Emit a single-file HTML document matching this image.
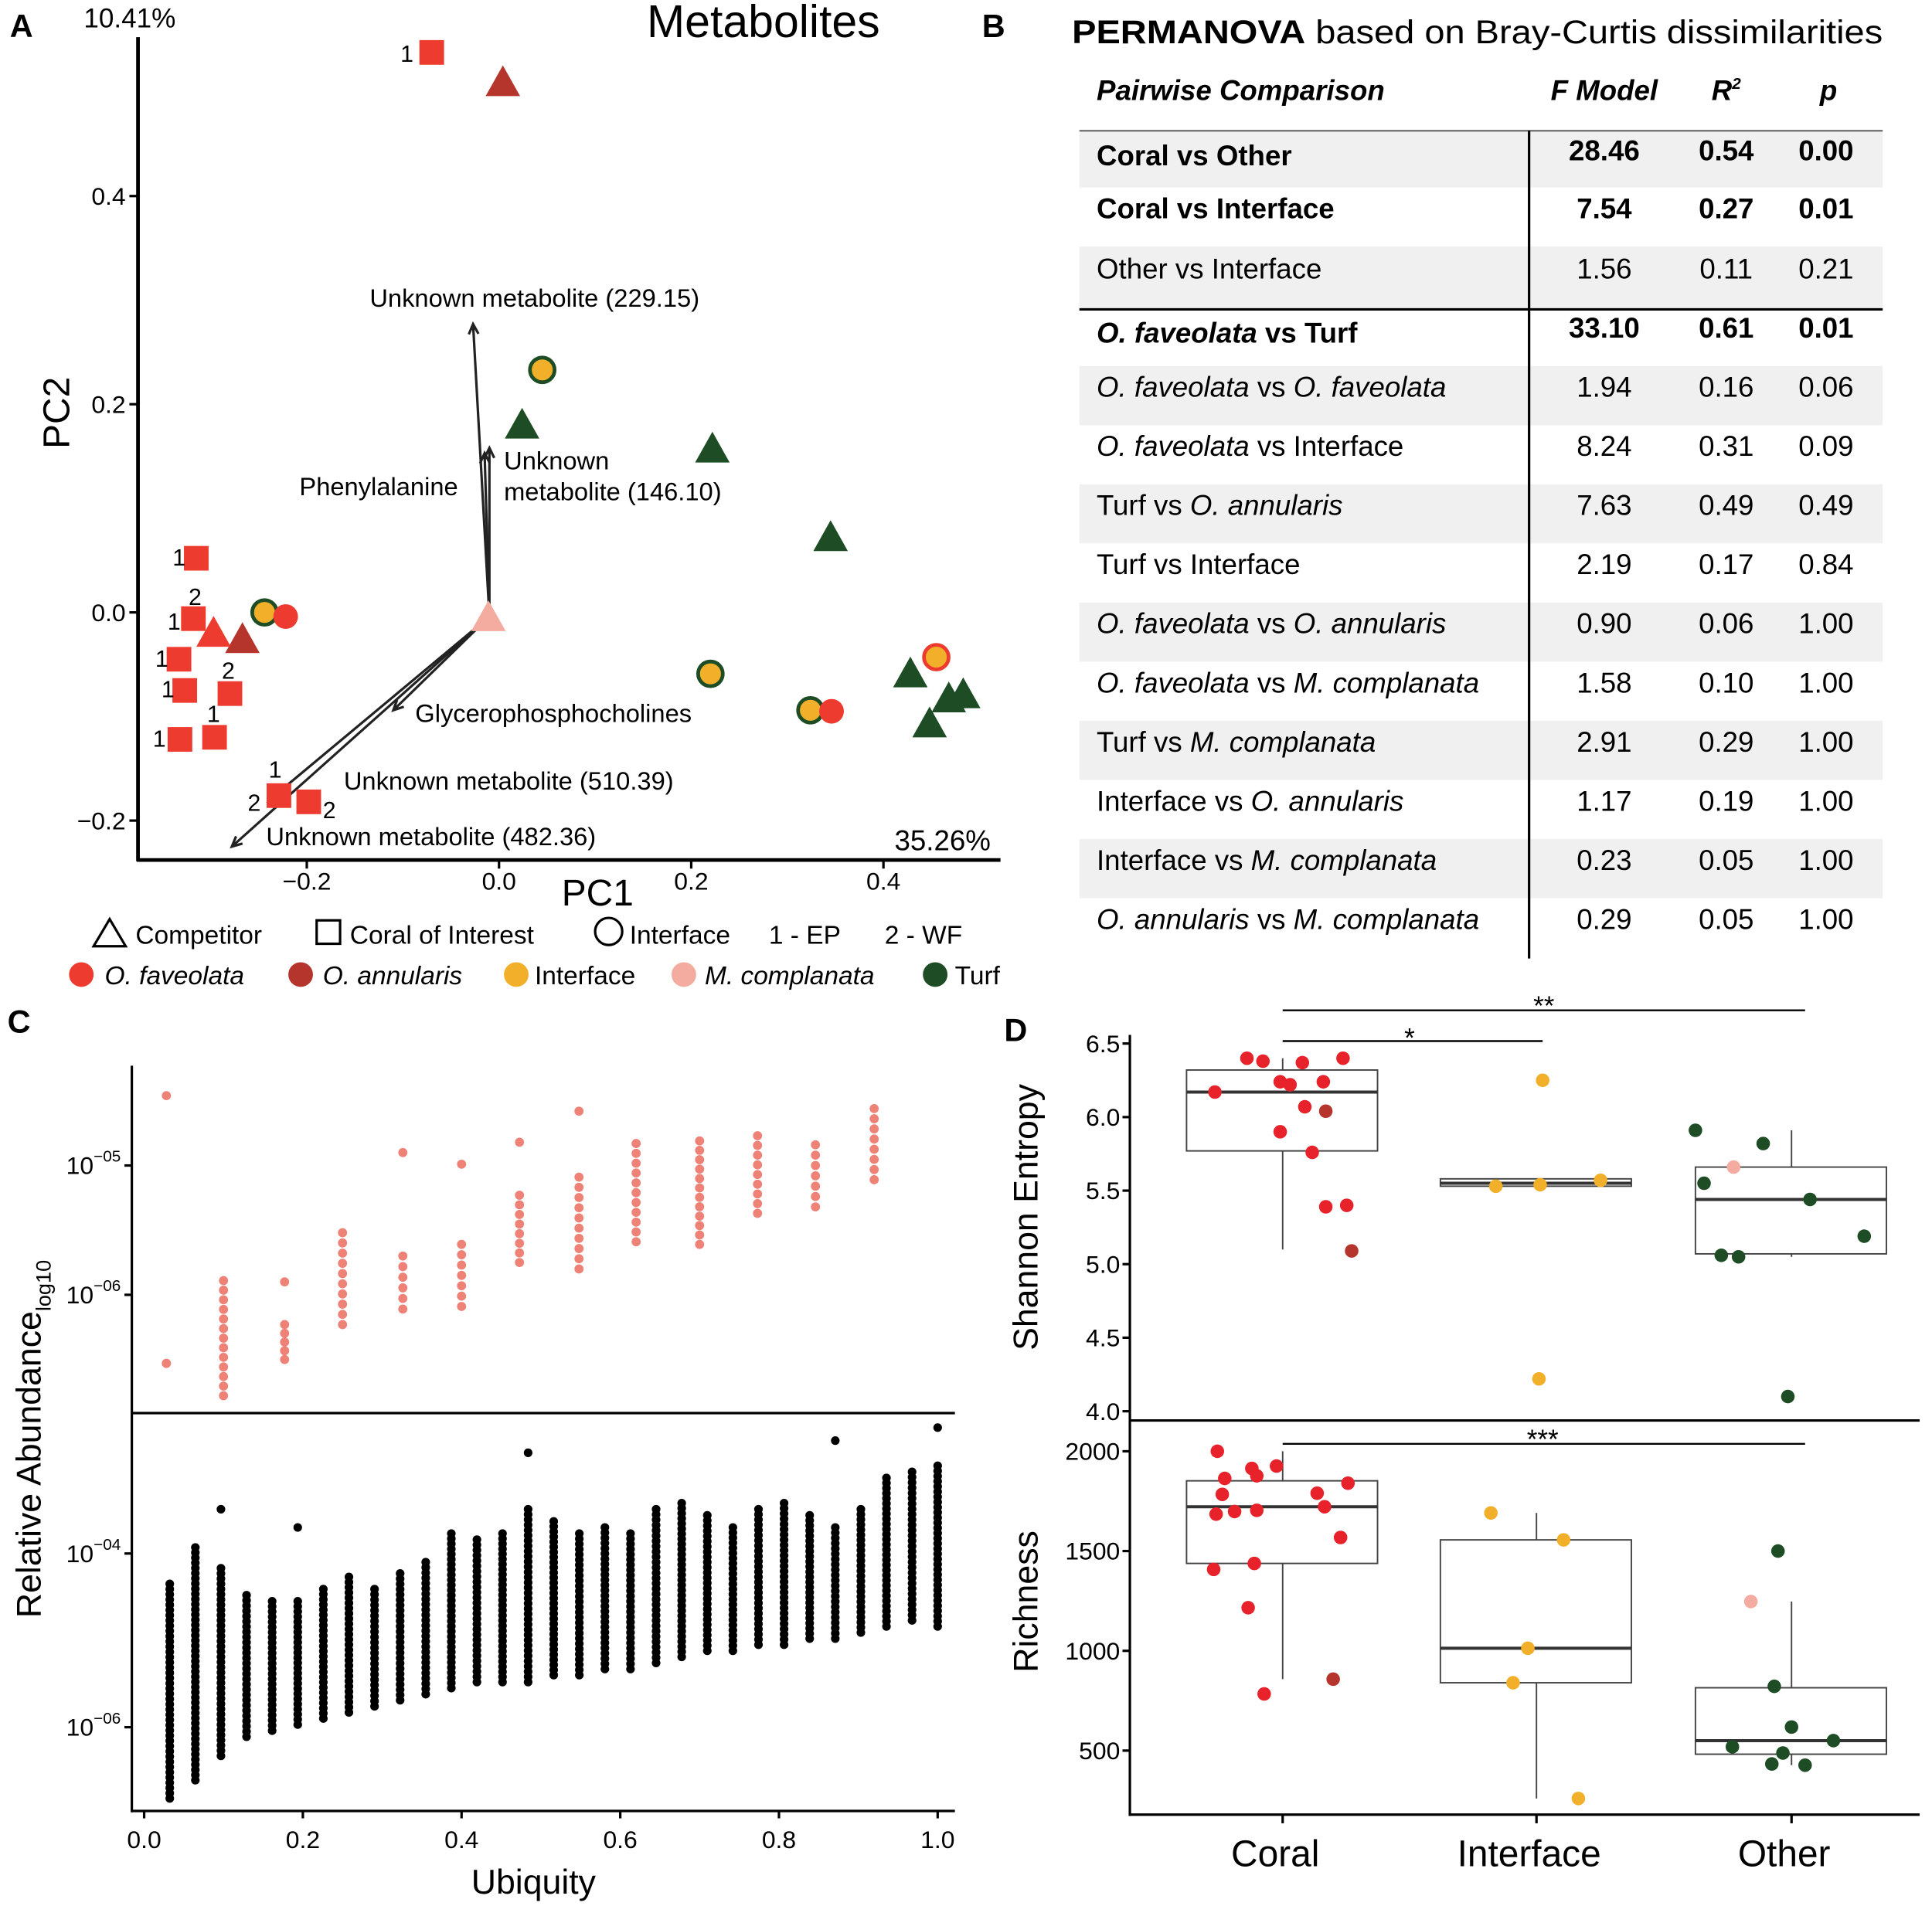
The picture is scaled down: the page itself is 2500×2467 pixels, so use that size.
<!DOCTYPE html>
<html><head><meta charset="utf-8">
<style>
html,body{margin:0;padding:0;background:#fff;}
svg{display:block;font-family:"Liberation Sans",Arial,sans-serif;}
</style></head>
<body>
<svg id="fig" width="2500" height="2467" viewBox="0 0 1568 1547" xmlns="http://www.w3.org/2000/svg">
<text x="8" y="30" font-size="26" font-weight="bold">A</text>
<text x="797" y="30" font-size="26" font-weight="bold">B</text>
<text x="6" y="838" font-size="26" font-weight="bold">C</text>
<text x="815" y="845" font-size="26" font-weight="bold">D</text>

<g id="panelA">
<line x1="112" y1="30" x2="112" y2="699" stroke="#000" stroke-width="3"/>
<line x1="111" y1="698" x2="812" y2="698" stroke="#000" stroke-width="3"/>
<text x="68" y="22" font-size="22">10.41%</text>
<text x="525" y="30" font-size="37">Metabolites</text>
<text x="726" y="690" font-size="23">35.26%</text>
<text transform="translate(56,335) rotate(-90)" text-anchor="middle" font-size="30">PC2</text>
<text x="485" y="735" text-anchor="middle" font-size="30">PC1</text>
<g id="aTicks"></g>
<g id="aArrows" stroke="#222" stroke-width="2" fill="none"></g>
<g id="aPts"></g>
<g font-size="20.5">
<text x="300" y="249">Unknown metabolite (229.15)</text>
<text x="409" y="381">Unknown</text>
<text x="409" y="406">metabolite (146.10)</text>
<text x="243" y="402">Phenylalanine</text>
<text x="337" y="586">Glycerophosphocholines</text>
<text x="279" y="641">Unknown metabolite (510.39)</text>
<text x="216" y="686">Unknown metabolite (482.36)</text>
</g>
<g font-size="19">
<text x="325" y="50">1</text><text x="140" y="459">1</text><text x="153" y="491">2</text>
<text x="136" y="511">1</text><text x="126" y="541">1</text><text x="131" y="566">1</text>
<text x="168" y="586">1</text><text x="180" y="551">2</text><text x="124" y="606">1</text>
<text x="218" y="631">1</text><text x="201" y="658">2</text><text x="262" y="664">2</text>
</g>
<g font-size="21">
<polygon points="76,768 89,746 102,768" fill="none" stroke="#000" stroke-width="2"/>
<text x="110" y="766">Competitor</text>
<rect x="257" y="747" width="19" height="19" fill="none" stroke="#000" stroke-width="2"/>
<text x="284" y="766">Coral of Interest</text>
<circle cx="494" cy="756" r="11" fill="none" stroke="#000" stroke-width="2"/>
<text x="511" y="766">Interface</text>
<text x="624" y="766">1 - EP</text>
<text x="718" y="766">2 - WF</text>
<circle cx="66" cy="791" r="10" fill="#ee3b2f"/>
<text x="85" y="799" font-style="italic">O. faveolata</text>
<circle cx="244" cy="791" r="10" fill="#b5342b"/>
<text x="262" y="799" font-style="italic">O. annularis</text>
<circle cx="419" cy="791" r="10" fill="#f2b02a"/>
<text x="434" y="799">Interface</text>
<circle cx="555" cy="791" r="10" fill="#f4aba0"/>
<text x="572" y="799" font-style="italic">M. complanata</text>
<circle cx="759" cy="791" r="10" fill="#1e4d25"/>
<text x="775" y="799">Turf</text>
</g>
</g>

<g id="panelB">
<text x="870" y="35" font-size="27" textLength="658" lengthAdjust="spacingAndGlyphs"><tspan font-weight="bold">PERMANOVA</tspan> based on Bray-Curtis dissimilarities</text>
<g fill="#f0f0f0">
<rect x="876" y="107" width="652" height="45"/><rect x="876" y="200" width="652" height="50"/>
<rect x="876" y="297" width="652" height="48"/><rect x="876" y="393" width="652" height="48"/>
<rect x="876" y="489" width="652" height="48"/><rect x="876" y="585" width="652" height="48"/>
<rect x="876" y="681" width="652" height="48"/>
</g>
<line x1="876" y1="106" x2="1528" y2="106" stroke="#777" stroke-width="1.5"/>
<line x1="876" y1="251" x2="1528" y2="251" stroke="#000" stroke-width="2"/>
<line x1="1241" y1="106" x2="1241" y2="778" stroke="#000" stroke-width="2"/>
<g font-size="23" font-weight="bold" font-style="italic">
<text x="890" y="81">Pairwise Comparison</text>
<text x="1302" y="81" text-anchor="middle">F Model</text>
<text x="1401" y="81" text-anchor="middle">R<tspan font-size="13" dy="-9">2</tspan></text>
<text x="1484" y="81" text-anchor="middle">p</text>
</g>
<g font-size="23">
<g font-weight="bold"><text x="890" y="134">Coral vs Other</text><text x="1302" y="130" text-anchor="middle">28.46</text><text x="1401" y="130" text-anchor="middle">0.54</text><text x="1482" y="130" text-anchor="middle">0.00</text></g>
<g font-weight="bold"><text x="890" y="177">Coral vs Interface</text><text x="1302" y="177" text-anchor="middle">7.54</text><text x="1401" y="177" text-anchor="middle">0.27</text><text x="1482" y="177" text-anchor="middle">0.01</text></g>
<g><text x="890" y="226">Other vs Interface</text><text x="1302" y="226" text-anchor="middle">1.56</text><text x="1401" y="226" text-anchor="middle">0.11</text><text x="1482" y="226" text-anchor="middle">0.21</text></g>
<g font-weight="bold"><text x="890" y="278"><tspan font-style="italic">O. faveolata</tspan> vs Turf</text><text x="1302" y="274" text-anchor="middle">33.10</text><text x="1401" y="274" text-anchor="middle">0.61</text><text x="1482" y="274" text-anchor="middle">0.01</text></g>
<g><text x="890" y="322"><tspan font-style="italic">O. faveolata</tspan> vs <tspan font-style="italic">O. faveolata</tspan></text><text x="1302" y="322" text-anchor="middle">1.94</text><text x="1401" y="322" text-anchor="middle">0.16</text><text x="1482" y="322" text-anchor="middle">0.06</text></g>
<g><text x="890" y="370"><tspan font-style="italic">O. faveolata</tspan> vs Interface</text><text x="1302" y="370" text-anchor="middle">8.24</text><text x="1401" y="370" text-anchor="middle">0.31</text><text x="1482" y="370" text-anchor="middle">0.09</text></g>
<g><text x="890" y="418">Turf vs <tspan font-style="italic">O. annularis</tspan></text><text x="1302" y="418" text-anchor="middle">7.63</text><text x="1401" y="418" text-anchor="middle">0.49</text><text x="1482" y="418" text-anchor="middle">0.49</text></g>
<g><text x="890" y="466">Turf vs Interface</text><text x="1302" y="466" text-anchor="middle">2.19</text><text x="1401" y="466" text-anchor="middle">0.17</text><text x="1482" y="466" text-anchor="middle">0.84</text></g>
<g><text x="890" y="514"><tspan font-style="italic">O. faveolata</tspan> vs <tspan font-style="italic">O. annularis</tspan></text><text x="1302" y="514" text-anchor="middle">0.90</text><text x="1401" y="514" text-anchor="middle">0.06</text><text x="1482" y="514" text-anchor="middle">1.00</text></g>
<g><text x="890" y="562"><tspan font-style="italic">O. faveolata</tspan> vs <tspan font-style="italic">M. complanata</tspan></text><text x="1302" y="562" text-anchor="middle">1.58</text><text x="1401" y="562" text-anchor="middle">0.10</text><text x="1482" y="562" text-anchor="middle">1.00</text></g>
<g><text x="890" y="610">Turf vs <tspan font-style="italic">M. complanata</tspan></text><text x="1302" y="610" text-anchor="middle">2.91</text><text x="1401" y="610" text-anchor="middle">0.29</text><text x="1482" y="610" text-anchor="middle">1.00</text></g>
<g><text x="890" y="658">Interface vs <tspan font-style="italic">O. annularis</tspan></text><text x="1302" y="658" text-anchor="middle">1.17</text><text x="1401" y="658" text-anchor="middle">0.19</text><text x="1482" y="658" text-anchor="middle">1.00</text></g>
<g><text x="890" y="706">Interface vs <tspan font-style="italic">M. complanata</tspan></text><text x="1302" y="706" text-anchor="middle">0.23</text><text x="1401" y="706" text-anchor="middle">0.05</text><text x="1482" y="706" text-anchor="middle">1.00</text></g>
<g><text x="890" y="754"><tspan font-style="italic">O. annularis</tspan> vs <tspan font-style="italic">M. complanata</tspan></text><text x="1302" y="754" text-anchor="middle">0.29</text><text x="1401" y="754" text-anchor="middle">0.05</text><text x="1482" y="754" text-anchor="middle">1.00</text></g>
</g>
</g>

<g id="panelC">
<line x1="107" y1="865" x2="107" y2="1471" stroke="#000" stroke-width="2"/>
<line x1="106" y1="1470" x2="775" y2="1470" stroke="#000" stroke-width="2"/>
<line x1="107" y1="1147" x2="775" y2="1147" stroke="#000" stroke-width="2"/>
<text x="433" y="1537" text-anchor="middle" font-size="28">Ubiquity</text>
<text transform="translate(33,1168) rotate(-90)" text-anchor="middle" font-size="28">Relative Abundance<tspan font-size="17" dy="8">log10</tspan></text>
<g id="cTicks"></g>
<g id="cPts"></g>
</g>

<g id="panelD">
<line x1="917" y1="840" x2="917" y2="1474" stroke="#000" stroke-width="2"/>
<line x1="916" y1="1473" x2="1558" y2="1473" stroke="#000" stroke-width="2"/>
<line x1="917" y1="1153" x2="1558" y2="1153" stroke="#000" stroke-width="2"/>
<text transform="translate(842,988) rotate(-90)" text-anchor="middle" font-size="28">Shannon Entropy</text>
<text transform="translate(842,1300) rotate(-90)" text-anchor="middle" font-size="28">Richness</text>
<g stroke="#000" stroke-width="1.5">
<line x1="1041" y1="820" x2="1465" y2="820"/><line x1="1041" y1="845" x2="1252" y2="845"/><line x1="1041" y1="1172" x2="1465" y2="1172"/>
</g>
<g font-size="22" text-anchor="middle">
<text x="1253" y="824">**</text>
<text x="1144" y="850">*</text>
<text x="1252" y="1176">***</text>
</g>
<g id="dAll"></g>
</g>

<script>
const pcaSquaresX=[-0.07,-0.315,-0.318,-0.333,-0.327,-0.28,-0.332,-0.296,-0.229,-0.198];
const pcaSquaresY=[0.538,0.052,-0.006,-0.045,-0.075,-0.078,-0.122,-0.120,-0.176,-0.182];
const pcaTriX=[0.004,-0.267,-0.297,-0.011,0.024,0.222,0.345,0.428,0.468,0.483,0.448];
const pcaTriY=[0.509,-0.026,-0.020,-0.005,0.180,0.157,0.072,-0.059,-0.083,-0.079,-0.107];
const pcaTriCol=['#b5342b','#b5342b','#ee3b2f','#f4aba0','#1e4d25','#1e4d25','#1e4d25','#1e4d25','#1e4d25','#1e4d25','#1e4d25'];
const pcaCircX=[0.045,-0.244,0.22,0.324,0.455,-0.222,0.346];
const pcaCircY=[0.233,0.000,-0.059,-0.094,-0.043,-0.004,-0.095];
const pcaCircFill=['#f2b02a','#f2b02a','#f2b02a','#f2b02a','#f2b02a','#ee3b2f','#ee3b2f'];
const pcaCircStroke=['#1e4d25','#1e4d25','#1e4d25','#1e4d25','#ee3b2f','none','none'];
const arrowX=[-0.027,-0.01,-0.015,-0.11,-0.278,-0.24];
const arrowY=[0.277,0.158,0.153,-0.094,-0.225,-0.181];
const pcaXTicks=[-0.2,0.0,0.2,0.4];
const pcaYTicks=[-0.2,0.0,0.2,0.4];
const ax=v=>405+v*780, ay=v=>497-v*845;
const NS='http://www.w3.org/2000/svg';
function mk(parent,tag,attrs,txt){const e=document.createElementNS(NS,tag);for(const k in attrs)e.setAttribute(k,attrs[k]);if(txt!==undefined)e.textContent=txt;parent.appendChild(e);return e;}
const aT=document.getElementById('aTicks');
pcaXTicks.forEach(v=>{let t=mk(aT,'line',{x1:ax(v),x2:ax(v),y1:698,y2:705,stroke:'#000','stroke-width':2});


let l=mk(aT,'text',{x:ax(v),y:722,'text-anchor':'middle','font-size':20},(v<0?'\u22120.2':v.toFixed(1)));

});
pcaYTicks.forEach(v=>{let t=mk(aT,'line',{x1:105,x2:112,y1:ay(v),y2:ay(v),stroke:'#000','stroke-width':2});


let l=mk(aT,'text',{x:102,y:ay(v)+7,'text-anchor':'end','font-size':20},(v<0?'\u22120.2':v.toFixed(1)));

});
const aA=document.getElementById('aArrows');
const ox=ax(-0.01), oy=ay(-0.004);
arrowX.forEach((v,i)=>{const x2=ax(v),y2=ay(arrowY[i]);const ang=Math.atan2(y2-oy,x2-ox);
let ln=mk(aA,'path',{d:`M${ox},${oy}L${x2},${y2}M${x2-9*Math.cos(ang-0.45)},${y2-9*Math.sin(ang-0.45)}L${x2},${y2}L${x2-9*Math.cos(ang+0.45)},${y2-9*Math.sin(ang+0.45)}`});

});
const aP=document.getElementById('aPts');
pcaSquaresX.forEach((v,i)=>{let r=mk(aP,'rect',{x:ax(v)-10,y:ay(pcaSquaresY[i])-10,width:20,height:20,fill:'#ee3b2f'});

});
pcaTriX.forEach((v,i)=>{const x=ax(v),y=ay(pcaTriY[i]);let p=mk(aP,'polygon',{points:`${x-14},${y+11} ${x},${y-14} ${x+14},${y+11}`,fill:pcaTriCol[i]});

});
pcaCircX.forEach((v,i)=>{let c=mk(aP,'circle',{cx:ax(v),cy:ay(pcaCircY[i]),r:10,fill:pcaCircFill[i],stroke:pcaCircStroke[i],'stroke-width':3});

});

const pinkUbiq=[0.028,0.1,0.177,0.25,0.326,0.4,0.473,0.548,0.62,0.7,0.773,0.846,0.92];
const pinkLo=[-6.53,-6.78,-6.50,-6.23,-6.11,-6.09,-5.75,-5.80,-5.59,-5.61,-5.37,-5.32,-5.11];
const pinkHi=[-6.53,-5.89,-6.23,-5.52,-5.70,-5.61,-5.23,-5.09,-4.83,-4.81,-4.77,-4.84,-4.56];
const pinkOut=[-4.46,null,-5.90,null,-4.90,-4.99,-4.82,-4.58,null,null,null,null,null];
const blackLo=[-6.82,-6.61,-6.33,-6.11,-6.04,-5.97,-5.90,-5.83,-5.76,-5.69,-5.62,-5.55,-5.48,-5.48,-5.48,-5.40,-5.40,-5.33,-5.33,-5.26,-5.19,-5.12,-5.12,-5.05,-5.05,-4.98,-4.98,-4.91,-4.84,-4.77,-4.84];
const blackHi=[-4.35,-3.93,-4.17,-4.48,-4.55,-4.55,-4.41,-4.27,-4.41,-4.23,-4.10,-3.77,-3.84,-3.77,-3.49,-3.63,-3.77,-3.70,-3.77,-3.49,-3.42,-3.56,-3.70,-3.49,-3.42,-3.56,-3.70,-3.49,-3.13,-3.06,-2.99];
const blackOut=[null,null,-3.49,null,null,-3.70,null,null,null,null,null,null,null,null,-2.84,null,null,null,null,null,null,null,null,null,null,null,-2.70,null,null,null,-2.55];
const ubiqTicks=[0,0.2,0.4,0.6,0.8,1.0];
const cx=v=>117+v*644, cyTop=l=>946-(l+5)*105, cyBot=l=>1261-(l+4)*70.5;
const cT=document.getElementById('cTicks');
ubiqTicks.forEach(v=>{let t=mk(cT,'line',{x1:cx(v),x2:cx(v),y1:1470,y2:1476,stroke:'#000','stroke-width':2});


let l=mk(cT,'text',{x:cx(v),y:1500,'text-anchor':'middle','font-size':20},v.toFixed(1));

});
[[cyTop(-5),'\u221205'],[cyTop(-6),'\u221206'],[cyBot(-4),'\u221204'],[cyBot(-6),'\u221206']].forEach(([y,e])=>{
let t=mk(cT,'line',{x1:101,x2:107,y1:y,y2:y,stroke:'#000','stroke-width':2});


let l=mk(cT,'text',{x:98,y:y+7,'text-anchor':'end','font-size':20});


mk(l,'tspan',{},'10');
mk(l,'tspan',{'font-size':13,dy:-10},e);});
const cP=document.getElementById('cPts');
pinkUbiq.forEach((u,i)=>{const n=Math.max(1,Math.round((pinkHi[i]-pinkLo[i])/0.075));
for(let j=0;j<=n;j++){const l=pinkLo[i]+(pinkHi[i]-pinkLo[i])*j/n;let c=mk(cP,'circle',{cx:cx(u),cy:cyTop(l),r:3.7,fill:'#ee8277'});

}
if(pinkOut[i]!==null){let c=mk(cP,'circle',{cx:cx(u),cy:cyTop(pinkOut[i]),r:3.7,fill:'#ee8277'});

}});
blackLo.forEach((lo,i)=>{const u=(i+1)/31;const hi=blackHi[i];const n=Math.round((hi-lo)/0.06);
for(let j=0;j<=n;j++){const l=lo+(hi-lo)*j/n;let c=mk(cP,'circle',{cx:cx(u),cy:cyBot(l),r:3.5,fill:'#000'});

}
if(blackOut[i]!==null){let c=mk(cP,'circle',{cx:cx(u),cy:cyBot(blackOut[i]),r:3.5,fill:'#000'});

}});

const groups=['Coral','Interface','Other'];
const shanBoxLo=[5.10,5.53,5.05], shanQ1=[5.77,5.53,5.07], shanMed=[6.17,5.55,5.44], shanQ3=[6.32,5.58,5.66], shanHi=[6.40,5.58,5.91];
const richBoxLo=[858,260,427], richQ1=[1438,840,482], richMed=[1722,1013,550], richQ3=[1852,1556,815], richHi=[2000,1691,1247];
const shanPtGroup=[0,0,0,0,0,0,0,0,0,0,0,0,0,0,0,1,1,1,1,1,2,2,2,2,2,2,2,2,2];
const shanPtVal=[6.17,6.40,6.38,6.24,6.37,6.22,6.24,6.40,6.07,5.90,5.76,5.39,5.40,6.04,5.09,6.25,5.53,5.54,5.57,4.22,5.91,5.82,5.55,5.44,5.19,5.06,5.05,4.10,5.66];
const shanPtCol=['r','r','r','r','r','r','r','r','r','r','r','r','r','d','d','y','y','y','y','y','g','g','g','g','g','g','g','g','p'];
const shanPtDx=[-55,-29,-16,-2,16,6,33,49,18,-2,24,35,52,35,56,5,-33,3,52,2,-78,-23,-71,15,59,-57,-43,-3,-47];
const richPtGroup=[0,0,0,0,0,0,0,0,0,0,0,0,0,0,0,0,0,0,1,1,1,1,1,2,2,2,2,2,2,2,2,2];
const richPtVal=[2000,1864,1877,1914,1926,1784,1698,1704,1685,1790,1722,1840,1568,1438,1408,1216,784,858,1691,1556,1013,840,260,1500,1247,822,519,488,618,550,433,427];
const richPtCol=['r','r','r','r','r','r','r','r','r','r','r','r','r','r','r','r','r','d','y','y','y','y','y','g','p','g','g','g','g','g','g','g'];
const richPtDx=[-53,-47,-21,-25,-5,-49,-39,-21,-54,28,34,53,47,-23,-56,-28,-15,41,-37,22,-7,-19,34,-11,-33,-14,-48,-7,0,34,-16,11];
const shanTicks=[4.0,4.5,5.0,5.5,6.0,6.5];
const richTicks=[500,1000,1500,2000];
const colMap={r:'#e8222a',d:'#b5342b',y:'#f2b02a',g:'#1e4d25',p:'#f4aba0'};
const gx=[1041,1247,1454];
const sy=v=>847+(6.5-v)*119.4, ry=v=>1178+(2000-v)*81/500;
const dA=document.getElementById('dAll');
groups.forEach((g,i)=>{let l=mk(dA,'text',{x:gx[i]-6,y:1515,'text-anchor':'middle','font-size':30},g);


let t=mk(dA,'line',{x1:gx[i],x2:gx[i],y1:1473,y2:1480,stroke:'#000','stroke-width':2});

});
shanTicks.forEach(v=>{let t=mk(dA,'line',{x1:911,x2:917,y1:sy(v),y2:sy(v),stroke:'#000','stroke-width':2});


let l=mk(dA,'text',{x:909,y:sy(v)+7,'text-anchor':'end','font-size':20},v.toFixed(1));

});
richTicks.forEach(v=>{let t=mk(dA,'line',{x1:911,x2:917,y1:ry(v),y2:ry(v),stroke:'#000','stroke-width':2});


let l=mk(dA,'text',{x:909,y:ry(v)+7,'text-anchor':'end','font-size':20},String(v));

});
function box(fy,lo,q1,med,q3,hi,i,name){const x=gx[i];
let w=mk(dA,'line',{x1:x,x2:x,y1:fy(hi),y2:fy(lo),stroke:'#444','stroke-width':1.2});


let r=mk(dA,'rect',{x:x-78,y:fy(q3),width:155,height:Math.max(1,fy(q1)-fy(q3)),fill:'#fff',stroke:'#444','stroke-width':1.2});


let m=mk(dA,'line',{x1:x-78,x2:x+77,y1:fy(med),y2:fy(med),stroke:'#333','stroke-width':2.5});

}
groups.forEach((g,i)=>{box(sy,shanBoxLo[i],shanQ1[i],shanMed[i],shanQ3[i],shanHi[i],i,'shannon-'+g.toLowerCase());
box(ry,richBoxLo[i],richQ1[i],richMed[i],richQ3[i],richHi[i],i,'richness-'+g.toLowerCase());});
shanPtVal.forEach((v,i)=>{let c=mk(dA,'circle',{cx:gx[shanPtGroup[i]]+shanPtDx[i],cy:sy(v),r:5.5,fill:colMap[shanPtCol[i]]});

});
richPtVal.forEach((v,i)=>{let c=mk(dA,'circle',{cx:gx[richPtGroup[i]]+richPtDx[i],cy:ry(v),r:5.5,fill:colMap[richPtCol[i]]});

});
</script>
</svg>
</body></html>
